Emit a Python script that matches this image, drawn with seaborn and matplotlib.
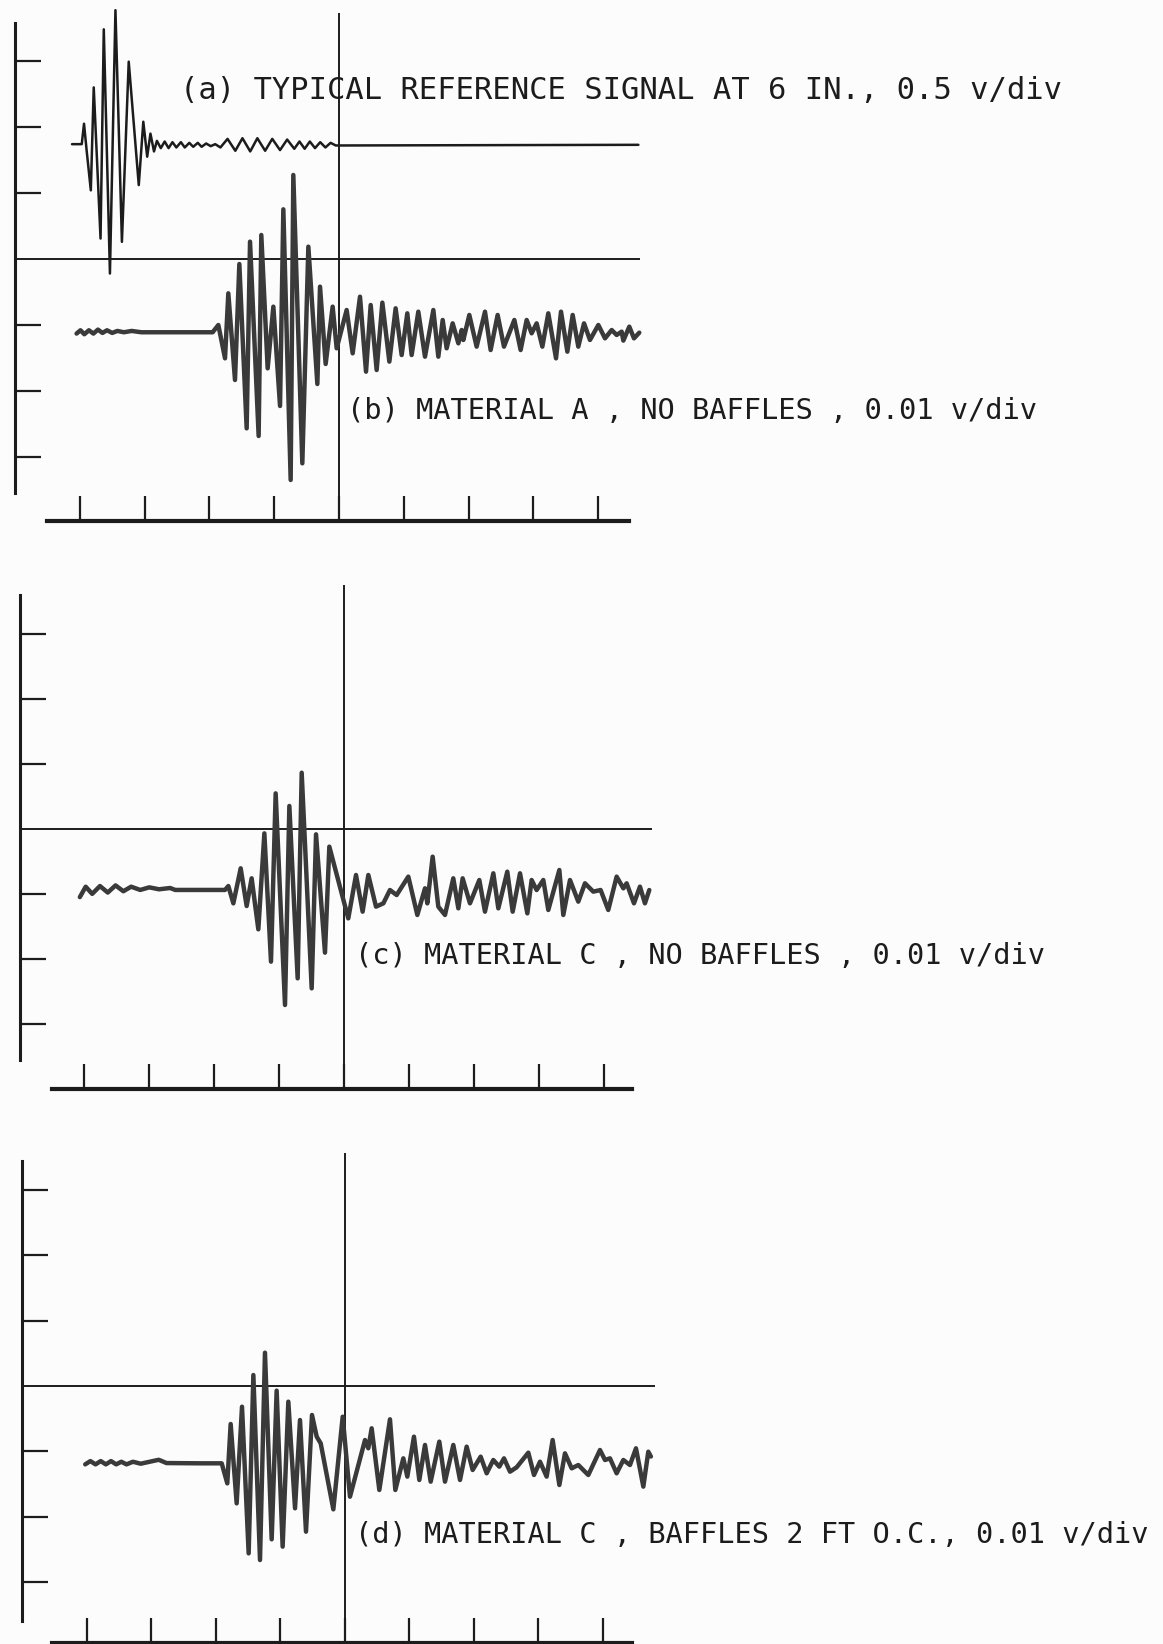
import matplotlib
matplotlib.use("Agg")
import matplotlib.pyplot as plt
import seaborn as sns
import pandas as pd

# Oscilloscope traces, time and amplitude both in screen divisions
a_time = [0.88, 1.03, 1.065, 1.105, 1.17, 1.215, 1.32, 1.37, 1.465, 1.55, 1.65, 1.755,
          1.91, 1.98, 2.04, 2.09, 2.145,
          2.19, 2.25, 2.31, 2.37, 2.43, 2.49, 2.56, 2.62, 2.69, 2.75, 2.82, 2.88, 2.95,
          3.02, 3.09, 3.17, 3.28, 3.40, 3.51, 3.63, 3.74, 3.86, 3.97, 4.09, 4.20, 4.31,
          4.39, 4.47, 4.55, 4.63, 4.71, 4.79, 4.87, 4.95, 9.62]
a_amp = [1.74, 1.74, 2.05, 1.65, 1.04, 2.60, 0.31, 3.48, -0.22, 3.77, 0.26, 2.99,
         1.12, 2.08, 1.55, 1.90, 1.63,
         1.79, 1.68, 1.78, 1.68, 1.77, 1.69, 1.77, 1.69, 1.76, 1.70, 1.76, 1.70, 1.75,
         1.71, 1.74, 1.69, 1.82, 1.64, 1.83, 1.63, 1.83, 1.64, 1.82, 1.65, 1.81, 1.67,
         1.78, 1.67, 1.78, 1.68, 1.77, 1.69, 1.76, 1.72, 1.73]

b_time = [0.95, 1.01, 1.07, 1.14, 1.21, 1.28, 1.35, 1.42, 1.50, 1.58, 1.68, 1.80, 1.95, 3.05,
          3.138, 3.241, 3.292, 3.395, 3.462, 3.575, 3.627, 3.76, 3.801, 3.899, 3.987, 4.09,
          4.141, 4.254, 4.295, 4.434, 4.527, 4.666, 4.707, 4.794, 4.902,
          4.964, 5.118, 5.211, 5.324, 5.417, 5.489, 5.581, 5.669, 5.777, 5.874, 5.967, 6.054,
          6.121, 6.224, 6.327, 6.456, 6.533, 6.60, 6.661, 6.754, 6.842, 6.893, 6.919, 7.011,
          7.124, 7.253, 7.34, 7.448, 7.546, 7.706, 7.803, 7.896, 7.973, 8.05, 8.138, 8.23,
          8.349, 8.426, 8.524, 8.606, 8.693, 8.781, 8.873, 9.002, 9.105, 9.208, 9.285, 9.362,
          9.388, 9.48, 9.552, 9.634]
b_amp = [-1.13, -1.08, -1.14, -1.08, -1.13, -1.07, -1.12, -1.08, -1.12, -1.09, -1.11, -1.09, -1.11, -1.11,
         -1.00, -1.505, -0.52, -1.833, -0.076, -2.566, 0.263, -2.682, 0.364, -1.657, -0.722, -2.227,
         0.753, -3.348, 1.273, -3.096, 0.187, -1.894, -0.419, -1.591, -0.722,
         -1.353, -0.773, -1.429, -0.571, -1.707, -0.697, -1.682, -0.661, -1.555, -0.747, -1.455, -0.823,
         -1.455, -0.798, -1.48, -0.773, -1.48, -0.924, -1.353, -0.975, -1.278, -1.076, -1.227, -0.848,
         -1.328, -0.798, -1.379, -0.848, -1.328, -0.924, -1.379, -0.924, -1.126, -0.975, -1.328, -0.823,
         -1.505, -0.798, -1.404, -0.848, -1.328, -0.975, -1.227, -1.0, -1.202, -1.076, -1.151, -1.101,
         -1.237, -1.025, -1.202, -1.116]

c_time = [0.93, 1.02, 1.12, 1.24, 1.36, 1.48, 1.60, 1.72, 1.86, 2.00, 2.15, 2.32, 2.40, 3.166,
          3.218, 3.295, 3.408, 3.50, 3.577, 3.68, 3.773, 3.875, 3.947, 4.091, 4.158, 4.286,
          4.348, 4.502, 4.569, 4.707, 4.774,
          5.066, 5.185, 5.287, 5.375, 5.493, 5.606, 5.708, 5.811, 5.991, 6.13, 6.248, 6.284,
          6.366, 6.453, 6.556, 6.684, 6.762, 6.828, 6.941, 7.085, 7.172, 7.301, 7.378, 7.516,
          7.599, 7.712, 7.825, 7.891, 7.968, 8.071, 8.148, 8.318, 8.379, 8.482, 8.61, 8.713,
          8.841, 8.954, 9.072, 9.201, 9.304, 9.355, 9.468, 9.56, 9.637, 9.704]
c_amp = [-1.04, -0.88, -0.99, -0.87, -0.97, -0.86, -0.95, -0.88, -0.93, -0.89, -0.92, -0.90, -0.93, -0.93,
         -0.87, -1.136, -0.597, -1.177, -0.751, -1.536, -0.059, -2.033, 0.556, -2.70, 0.362, -2.29,
         0.874, -2.444, -0.074, -1.895, -0.264,
         -1.367, -0.70, -1.264, -0.70, -1.187, -1.136, -0.931, -1.008, -0.725, -1.315, -0.905, -1.136,
         -0.418, -1.187, -1.315, -0.751, -1.213, -0.751, -1.136, -0.777, -1.264, -0.674, -1.213, -0.649,
         -1.264, -0.674, -1.29, -0.777, -0.931, -0.777, -1.238, -0.623, -1.315, -0.777, -1.11, -0.828,
         -0.956, -0.931, -1.238, -0.725, -0.905, -0.828, -1.136, -0.879, -1.136, -0.931]

d_time = [0.98, 1.06, 1.14, 1.22, 1.30, 1.38, 1.46, 1.54, 1.62, 1.72, 1.84, 1.98, 2.12, 2.24, 2.76, 3.096,
          3.183, 3.235, 3.328, 3.411, 3.514, 3.587, 3.69, 3.767, 3.871, 3.948, 4.041, 4.129,
          4.233, 4.31, 4.403, 4.496, 4.569, 4.631, 4.827, 4.972, 5.085,
          5.318, 5.369, 5.421, 5.54, 5.705, 5.788, 5.912, 5.974, 6.077, 6.16, 6.248, 6.336,
          6.47, 6.558, 6.687, 6.791, 6.894, 6.987, 7.111, 7.204, 7.307, 7.40, 7.473, 7.566,
          7.669, 7.85, 7.938, 8.031, 8.134, 8.227, 8.331, 8.418, 8.522, 8.625, 8.78, 8.961,
          9.039, 9.116, 9.219, 9.323, 9.426, 9.519, 9.633, 9.71, 9.75]
d_amp = [-1.20, -1.15, -1.20, -1.15, -1.20, -1.15, -1.20, -1.16, -1.20, -1.16, -1.19, -1.16, -1.13, -1.18, -1.184, -1.184,
         -1.491, -0.582, -1.797, -0.317, -2.563, 0.168, -2.665, 0.51, -2.348, -0.071, -2.46, -0.24,
         -1.873, -0.521, -2.231, -0.444, -0.776, -0.878, -1.889, -0.47, -1.695,
         -0.827, -0.954, -0.648, -1.592, -0.51, -1.592, -1.108, -1.388, -0.776, -1.439, -0.903, -1.465,
         -0.852, -1.465, -0.903, -1.439, -0.929, -1.286, -1.082, -1.337, -1.133, -1.235, -1.108, -1.312,
         -1.245, -1.021, -1.363, -1.159, -1.388, -0.827, -1.516, -1.031, -1.261, -1.21, -1.363, -0.98,
         -1.133, -1.108, -1.337, -1.133, -1.21, -0.954, -1.541, -1.006, -1.08]

labels = ["(a) TYPICAL REFERENCE SIGNAL AT 6 IN., 0.5 v/div",
          "(b) MATERIAL A , NO BAFFLES , 0.01 v/div",
          "(c) MATERIAL C , NO BAFFLES , 0.01 v/div",
          "(d) MATERIAL C , BAFFLES 2 FT O.C., 0.01 v/div"]

x_ticks = [1, 2, 3, 4, 5, 6, 7, 8, 9]
y_ticks = [-3, -2, -1, 1, 2, 3]

sns.set_theme(style="white")
plt.rcParams['font.family'] = ['DejaVu Sans Mono', 'DejaVu Sans']

paper = "#fcfcfc"
ink = "#1c1c1c"
trace_ink = "#3a3a3a"

W, H = 1163, 1644
fig = plt.figure(figsize=(W / 100, H / 100), dpi=100, facecolor=paper)

# pixel layout of the three oscilloscope screens
panels = [
    dict(top=0, bot=548, x0=15, dx=64.8, y0=259, dy=66, left=(-3.54, 3.58), base=-3.97,
         base_span=(0.49, 9.48), zero_end=9.64, v_top=3.73,
         traces=[(a_time, a_amp, ink, 1.8), (b_time, b_amp, trace_ink, 3.2)],
         texts=[(labels[0], 2.55, 2.55, 22.0), (labels[1], 5.12, -2.30, 20.7)]),
    dict(top=548, bot=1105, x0=19.5, dx=64.9, y0=829.5, dy=65, left=(-3.55, 3.60), base=-4.0,
         base_span=(0.50, 9.44), zero_end=9.75, v_top=3.76,
         traces=[(c_time, c_amp, trace_ink, 3.2)],
         texts=[(labels[2], 5.17, -1.95, 20.6)]),
    dict(top=1105, bot=1644, x0=22, dx=64.5, y0=1386, dy=65.3, left=(-3.60, 3.45), base=-3.93,
         base_span=(0.47, 9.46), zero_end=9.81, v_top=3.57,
         traces=[(d_time, d_amp, trace_ink, 3.2)],
         texts=[(labels[3], 5.17, -2.28, 20.6)]),
]

for p in panels:
    ax = fig.add_axes([0, 1 - p['bot'] / H, 1, (p['bot'] - p['top']) / H])
    ax.set_xlim(-p['x0'] / p['dx'], (W - p['x0']) / p['dx'])
    ax.set_ylim((p['y0'] - p['bot']) / p['dy'], (p['y0'] - p['top']) / p['dy'])
    ax.patch.set_alpha(0)

    # graticule: left scale, bottom scale, zero line and centre line
    for side in ['top', 'right']:
        ax.spines[side].set_visible(False)
    ax.spines['left'].set_position(('data', 0))
    ax.spines['left'].set_bounds(*p['left'])
    ax.spines['left'].set_linewidth(2.2)
    ax.spines['left'].set_color(ink)
    ax.spines['bottom'].set_position(('data', p['base']))
    ax.spines['bottom'].set_bounds(*p['base_span'])
    ax.spines['bottom'].set_linewidth(3.0)
    ax.spines['bottom'].set_color(ink)
    ax.set_xticks(x_ticks)
    ax.set_yticks(y_ticks)
    ax.tick_params(axis='x', which='major', bottom=True, top=False, direction='in',
                   length=18, width=1.6, color=ink, labelbottom=False)
    ax.tick_params(axis='y', which='major', left=True, right=False, direction='in',
                   length=19, width=1.6, color=ink, labelleft=False)
    ax.grid(False)

    ax.hlines(0, 0, p['zero_end'], color=ink, linewidth=1.4)
    ax.vlines(5, p['base'], p['v_top'], color=ink, linewidth=1.4)

    for t, v, col, lw in p['traces']:
        df = pd.DataFrame({'time': t, 'amp': v})
        sns.lineplot(data=df, x='time', y='amp', ax=ax, estimator=None, sort=False,
                     color=col, linewidth=lw, solid_joinstyle='round', solid_capstyle='round')
    ax.set_xlabel('')
    ax.set_ylabel('')

    for txt, tx, ty, fs in p['texts']:
        ax.text(tx, ty, txt, fontsize=fs, color=ink, ha='left', va='center',
                family=['DejaVu Sans Mono', 'DejaVu Sans'])

fig.savefig('out.png', dpi=100, facecolor=paper)
